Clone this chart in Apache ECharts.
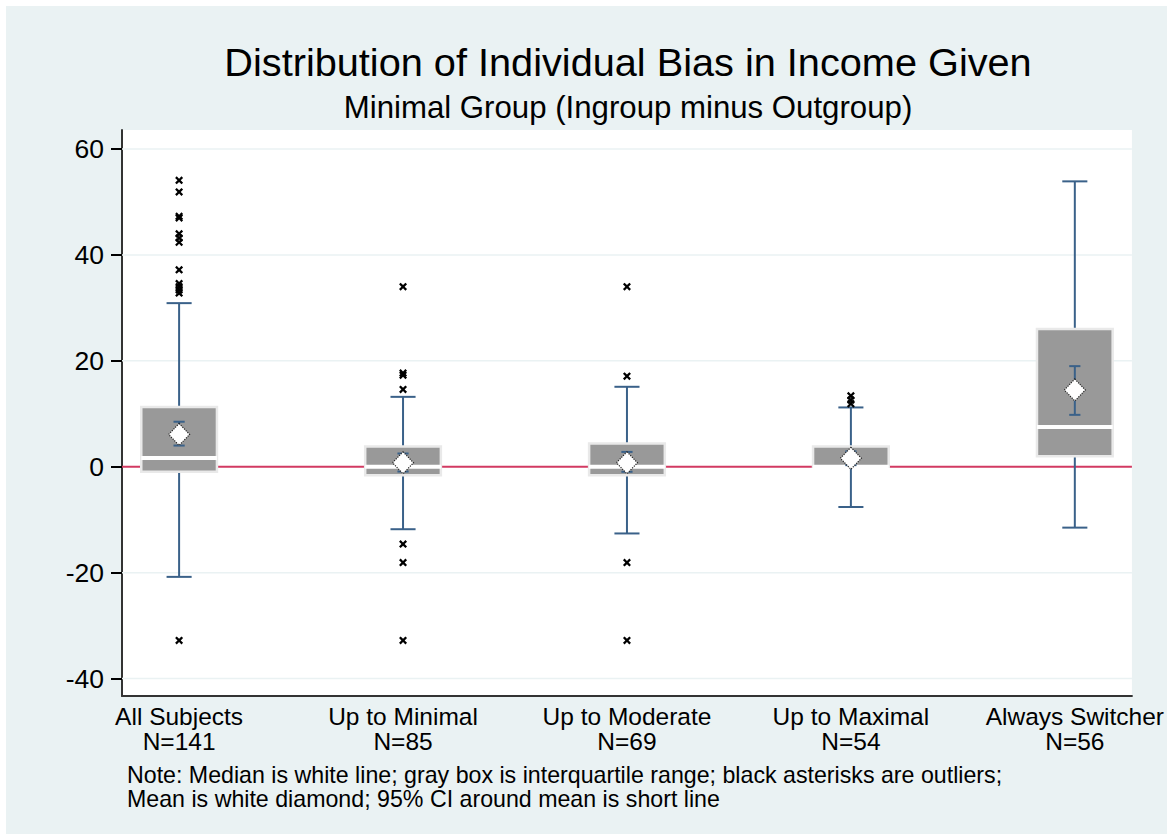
<!DOCTYPE html>
<html>
<head>
<meta charset="utf-8">
<title>Distribution of Individual Bias in Income Given</title>
<script src="https://cdn.jsdelivr.net/npm/echarts@6/dist/echarts.min.js"></script>
<style>
  html, body { margin: 0; padding: 0; background: #ffffff; }
  #frame { position: absolute; left: 6px; top: 6px; width: 1161px; height: 828px; background: #eaf2f3; }
  #chart { position: absolute; left: 0; top: 0; width: 1167px; height: 840px; }
</style>
</head>
<body>
<div id="frame"></div>
<div id="chart"></div>
<script>
// Groups and sample sizes
const categories = ['All Subjects', 'Up to Minimal', 'Up to Moderate', 'Up to Maximal', 'Always Switcher'];
const groupN = [141, 85, 69, 54, 56];

// Box plot statistics (ingroup minus outgroup income)
const whiskerLow  = [-20.8, -11.8, -12.6, -7.6, -11.5];
const quartile1   = [-0.95, -1.6, -1.6, 0, 2.0];
const medians     = [1.65, 0, 0, 0, 7.5];
const quartile3   = [11.3, 3.8, 4.4, 3.8, 26.0];
const whiskerHigh = [30.9, 13.2, 15.1, 11.2, 53.9];

// Means with 95% confidence intervals
const means  = [6.1, 0.75, 0.75, 1.6, 14.5];
const ciLow  = [4.0, -0.9, -0.95, 0.3, 9.8];
const ciHigh = [8.5, 2.5, 2.8, 2.9, 19.0];

// Outliers per group
const outliers = [
  [54.1, 51.9, 47.3, 47.0, 44.0, 43.2, 42.4, 37.2, 34.6, 34.0, 33.4, 32.8, -32.8],
  [34.0, 17.7, 17.3, 14.6, -14.6, -18.1, -32.8],
  [34.0, 17.1, -18.1, -32.8],
  [13.4, 12.6, 11.9],
  []
];

// Y axis ticks
const yTicks = [-40, -20, 0, 20, 40, 60];

const titleText = 'Distribution of Individual Bias in Income Given';
const subtitleText = 'Minimal Group (Ingroup minus Outgroup)';
const noteLines = [
  'Note: Median is white line; gray box is interquartile range; black asterisks are outliers;',
  'Mean is white diamond; 95% CI around mean is short line'
];

const FONT = "'Liberation Sans', Arial, Helvetica, sans-serif";
const NAVY = '#3a6189';
const BOX_W = 0.338;
const CAP_W = 0.112;
const CI_CAP_W = 0.05;

const boxData = categories.map((c, i) => [i, whiskerLow[i], quartile1[i], medians[i], quartile3[i], whiskerHigh[i]]);
const ciData = categories.map((c, i) => [i, ciLow[i], ciHigh[i]]);
const meanData = categories.map((c, i) => [i, means[i]]);
const outlierData = [];
outliers.forEach((vals, i) => vals.forEach(v => outlierData.push([i, v])));
const refData = yTicks.map(v => [v]);

// Horizontal grid lines, with the zero reference line in red
function renderRefLine(params, api) {
  const v = api.value(0);
  const cs = params.coordSys;
  const y = api.coord([0, v])[1];
  const isZero = v === 0;
  return {
    type: 'line',
    shape: { x1: cs.x, y1: y, x2: cs.x + cs.width, y2: y },
    style: { stroke: isZero ? '#d23a62' : '#eaf2f3', lineWidth: isZero ? 2 : 1.5 },
    silent: true
  };
}

// Whiskers, interquartile box and median line
function renderBox(params, api) {
  const x = api.value(0);
  const lo = api.coord([x, api.value(1)]);
  const q1 = api.coord([x, api.value(2)]);
  const med = api.coord([x, api.value(3)]);
  const q3 = api.coord([x, api.value(4)]);
  const hi = api.coord([x, api.value(5)]);
  const cx = lo[0];
  const hb = api.size([BOX_W, 0])[0] / 2;
  const hc = api.size([CAP_W, 0])[0] / 2;
  const wStyle = { stroke: NAVY, lineWidth: 2 };
  return {
    type: 'group',
    children: [
      { type: 'line', shape: { x1: cx, y1: q3[1], x2: cx, y2: hi[1] }, style: wStyle },
      { type: 'line', shape: { x1: cx, y1: q1[1], x2: cx, y2: lo[1] }, style: wStyle },
      { type: 'line', shape: { x1: cx - hc, y1: hi[1], x2: cx + hc, y2: hi[1] }, style: wStyle },
      { type: 'line', shape: { x1: cx - hc, y1: lo[1], x2: cx + hc, y2: lo[1] }, style: wStyle },
      { type: 'rect', shape: { x: cx - hb, y: q3[1], width: hb * 2, height: q1[1] - q3[1] },
        style: { fill: '#999999', stroke: '#e9e9e9', lineWidth: 2.5 } },
      { type: 'line', shape: { x1: cx - hb, y1: med[1], x2: cx + hb, y2: med[1] },
        style: { stroke: '#ffffff', lineWidth: 4 } }
    ]
  };
}

// Short line for the 95% confidence interval of the mean
function renderCI(params, api) {
  const x = api.value(0);
  const lo = api.coord([x, api.value(1)]);
  const hi = api.coord([x, api.value(2)]);
  const cx = lo[0];
  const hc = api.size([CI_CAP_W, 0])[0] / 2;
  const s = { stroke: NAVY, lineWidth: 2 };
  return {
    type: 'group',
    children: [
      { type: 'line', shape: { x1: cx, y1: lo[1], x2: cx, y2: hi[1] }, style: s },
      { type: 'line', shape: { x1: cx - hc, y1: lo[1], x2: cx + hc, y2: lo[1] }, style: s },
      { type: 'line', shape: { x1: cx - hc, y1: hi[1], x2: cx + hc, y2: hi[1] }, style: s }
    ]
  };
}

const chart = echarts.init(document.getElementById('chart'), null, { renderer: 'svg' });

chart.setOption({
  backgroundColor: 'transparent',
  animation: false,
  textStyle: { fontFamily: FONT },
  grid: {
    left: 122, right: 33, top: 130, bottom: 144,
    show: true, backgroundColor: '#ffffff', borderWidth: 0
  },
  graphic: [
    { type: 'text', x: 628, y: 62, style: { text: titleText, font: '39.7px ' + FONT, fill: '#000', align: 'center', verticalAlign: 'middle' } },
    { type: 'text', x: 628, y: 107, style: { text: subtitleText, font: '31.2px ' + FONT, fill: '#000', align: 'center', verticalAlign: 'middle' } },
    { type: 'text', x: 127, y: 775, style: { text: noteLines[0], font: '23.2px ' + FONT, fill: '#000', align: 'left', verticalAlign: 'middle' } },
    { type: 'text', x: 127, y: 799, style: { text: noteLines[1], font: '23.2px ' + FONT, fill: '#000', align: 'left', verticalAlign: 'middle' } }
  ],
  xAxis: {
    type: 'value',
    min: -0.255,
    max: categories.length - 1 + 0.255,
    axisLine: { show: true, onZero: false, lineStyle: { color: '#333', width: 2 } },
    axisTick: { show: false },
    splitLine: { show: false },
    axisLabel: {
      customValues: categories.map((c, i) => i),
      formatter: v => categories[v] + '\nN=' + groupN[v],
      color: '#000', fontSize: 24.5, lineHeight: 25, margin: 8, fontFamily: FONT, align: 'center'
    }
  },
  yAxis: {
    type: 'value',
    min: -43.3,
    max: 63.6,
    axisLine: { show: true, onZero: false, lineStyle: { color: '#333', width: 2 } },
    axisTick: { show: true, customValues: yTicks, length: 11, lineStyle: { color: '#000', width: 2 } },
    splitLine: { show: false },
    axisLabel: { customValues: yTicks, color: '#000', fontSize: 26.5, margin: 18, fontFamily: FONT }
  },
  series: [
    { type: 'custom', name: 'refLines', data: refData, encode: { y: 0 }, renderItem: renderRefLine, z: 1, silent: true },
    { type: 'custom', name: 'boxes', data: boxData, encode: { x: 0, y: [1, 2, 3, 4, 5] }, renderItem: renderBox, z: 2, silent: true },
    { type: 'custom', name: 'ci', data: ciData, encode: { x: 0, y: [1, 2] }, renderItem: renderCI, z: 3, silent: true },
    { type: 'scatter', name: 'mean', data: meanData, symbol: 'diamond', symbolSize: [21, 22],
      itemStyle: { color: '#ffffff', borderColor: '#222', borderWidth: 1.2, borderType: 'dotted', opacity: 1 }, z: 4, silent: true },
    { type: 'scatter', name: 'outliers', data: outlierData,
      symbol: 'path://M0,2 L2,0 L5,3 L8,0 L10,2 L7,5 L10,8 L8,10 L5,7 L2,10 L0,8 L3,5 Z',
      symbolSize: 8, itemStyle: { color: '#000', opacity: 1 }, z: 5, silent: true }
  ]
});
</script>
</body>
</html>
